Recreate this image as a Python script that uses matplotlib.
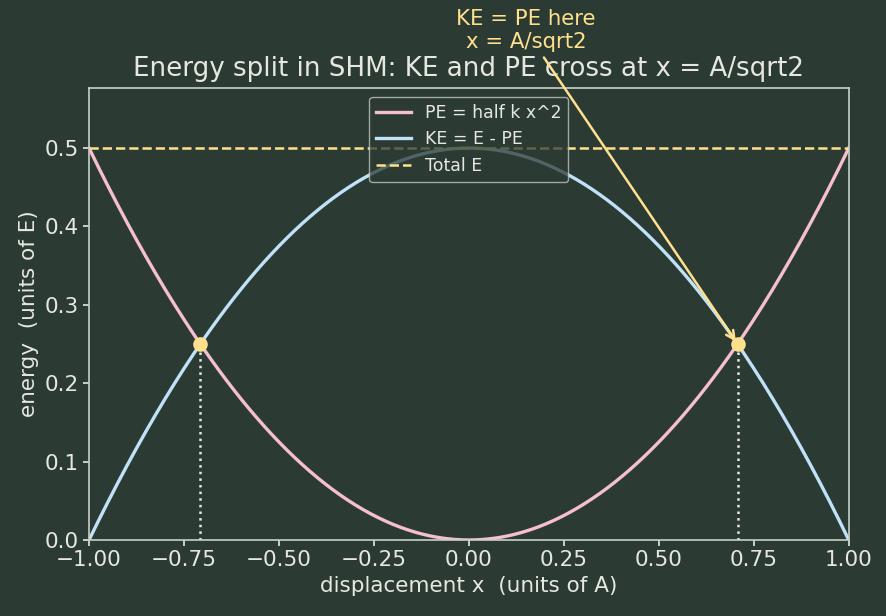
import numpy as np
import matplotlib.pyplot as plt

# energy in units of E, displacement in units of A
E_total = 0.5
x_cross = [-0.7071, 0.7071]
e_cross = [0.25, 0.25]
xticks = [-1.0, -0.75, -0.5, -0.25, 0.0, 0.25, 0.5, 0.75, 1.0]
yticks = [0.0, 0.1, 0.2, 0.3, 0.4, 0.5]

bg = '#2b3a33'
fg = '#e6e8e0'
pink = '#f5bfd0'
blue = '#c0e2f8'
yellow = '#ffe08c'

x = np.linspace(-1, 1, 400)
pe = 0.5 * x**2
ke = E_total - pe

plt.rcParams['text.color'] = fg
plt.rcParams['axes.labelcolor'] = fg
plt.rcParams['xtick.color'] = fg
plt.rcParams['ytick.color'] = fg

fig = plt.figure(figsize=(8.86, 6.16), dpi=100, facecolor=bg)
ax = fig.add_axes([0.1005, 0.1234, 0.8575, 0.7336])
ax.set_facecolor(bg)
for s in ax.spines.values():
    s.set_color('#c8d0c8')
    s.set_linewidth(1.2)

ax.plot(x, pe, color=pink, lw=2.4, label='PE = half k x^2')
ax.plot(x, ke, color=blue, lw=2.4, label='KE = E - PE')
ax.axhline(E_total, color=yellow, lw=1.8, ls='--', label='Total E')

for xc, ec in zip(x_cross, e_cross):
    ax.plot([xc, xc], [0, ec], color=fg, ls=':', lw=1.8)
ax.scatter(x_cross, e_cross, s=90, color=yellow, zorder=5)

ax.annotate('KE = PE here\nx = A/sqrt2', xy=(x_cross[1], e_cross[1]),
            xytext=(0.15, 0.622), ha='center', va='bottom', fontsize=15.3,
            color=yellow, annotation_clip=False, zorder=6,
            arrowprops=dict(arrowstyle='->', color=yellow, lw=1.8))

ax.set_xlim(-1, 1)
ax.set_ylim(0, 0.5765)
ax.set_xticks(xticks)
ax.set_yticks(yticks)
ax.tick_params(labelsize=15.5, length=4, width=1.2)
ax.set_xlabel('displacement x  (units of A)', fontsize=15.5)
ax.set_ylabel('energy  (units of E)', fontsize=15.5)
ax.set_title('Energy split in SHM: KE and PE cross at x = A/sqrt2',
             fontsize=18.8, color=fg, pad=9)

leg = ax.legend(loc='upper center', fontsize=12.5, facecolor=bg, edgecolor='#c8d0c8',
                framealpha=0.75)
for t in leg.get_texts():
    t.set_color(fg)

plt.savefig('out.png', dpi=100, facecolor=bg)
